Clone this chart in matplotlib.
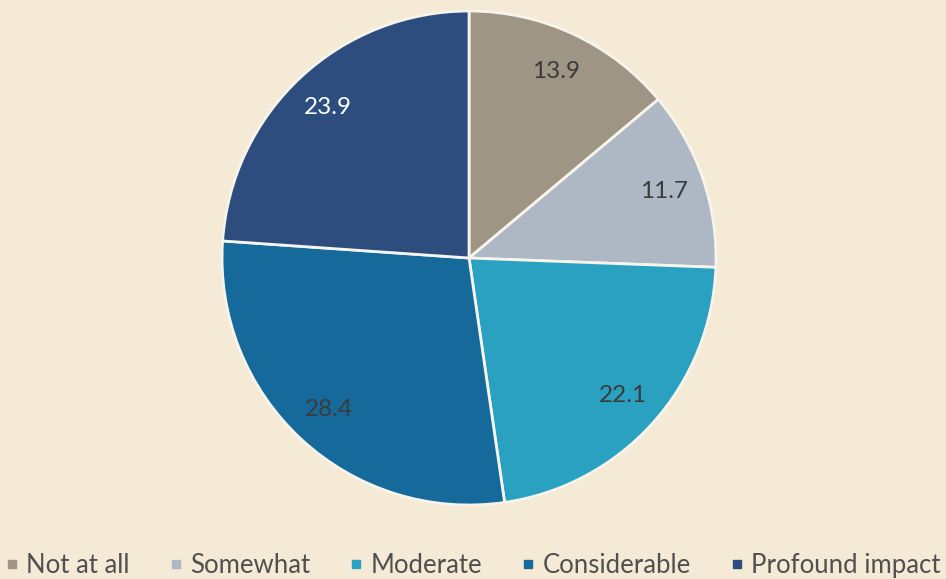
import numpy as np
import matplotlib.pyplot as plt
from matplotlib.lines import Line2D

categories = ['Not at all', 'Somewhat', 'Moderate', 'Considerable', 'Profound impact']
values = [13.9, 11.7, 22.1, 28.4, 23.9]
colors = ['#9E9585', '#AEB8C4', '#2AA1C0', '#156A9B', '#2C4D7E']
text_colors = ['#3b3b3b', '#3b3b3b', '#3b3b3b', '#3b3b3b', '#ffffff']

bg = '#F5EAD5'
plt.rcParams['font.family'] = ['Lato', 'DejaVu Sans']

fig = plt.figure(figsize=(9.46, 5.79), dpi=100, facecolor=bg)
ax = fig.add_axes([0.2347, 0.1278, 0.5222, 0.8532])
ax.set_facecolor(bg)

wedges, texts = ax.pie(values, colors=colors, startangle=90, counterclock=False,
                       radius=1, wedgeprops=dict(edgecolor='#F7F4EC', linewidth=2))
# value labels inside the slices
for w, v, tc in zip(wedges, values, text_colors):
    ang = np.deg2rad((w.theta1 + w.theta2) / 2)
    ax.text(0.835 * np.cos(ang), 0.835 * np.sin(ang), f'{v:.1f}', ha='center', va='center',
            fontsize=17.5, color=tc)
ax.set_xlim(-1, 1)
ax.set_ylim(-1, 1)
ax.set_aspect('equal')
ax.axis('off')

handles = [Line2D([], [], marker='s', linestyle='', markersize=6, color=c) for c in colors]
fig.legend(handles, categories, loc='lower center', ncol=5, frameon=False,
           bbox_to_anchor=(0.5, -0.038), fontsize=18.5, labelcolor='#505050',
           handletextpad=0.3, columnspacing=1.55, handlelength=0.5)

fig.savefig('out.png', dpi=100, facecolor=bg)
